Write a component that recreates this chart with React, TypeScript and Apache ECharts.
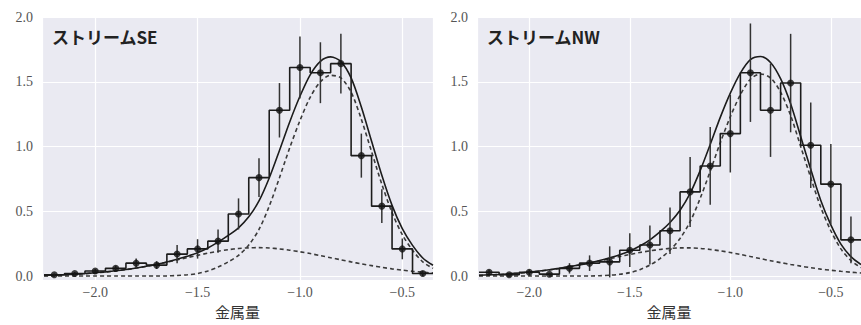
import React, { useEffect, useRef } from "react";
import * as echarts from "echarts";

// bin centres of the histograms (width 0.1)
const binCenters = [-2.2, -2.1, -2.0, -1.9, -1.8, -1.7, -1.6, -1.5, -1.4, -1.3, -1.2, -1.1, -1.0, -0.9, -0.8, -0.7, -0.6, -0.5, -0.4];
const binWidth = 0.1;

// Stream SE
const seVals = [0.01, 0.02, 0.04, 0.06, 0.1, 0.085, 0.17, 0.21, 0.27, 0.48, 0.76, 1.28, 1.61, 1.57, 1.64, 0.93, 0.54, 0.21, 0.02];
const seErr = [0.01, 0.012, 0.015, 0.02, 0.035, 0.03, 0.07, 0.075, 0.09, 0.12, 0.15, 0.21, 0.24, 0.235, 0.23, 0.17, 0.13, 0.08, 0.02];

// Stream NW
const nwVals = [0.03, 0.01, 0.03, 0.015, 0.06, 0.1, 0.11, 0.2, 0.24, 0.35, 0.65, 0.85, 1.1, 1.57, 1.28, 1.49, 1.01, 0.71, 0.28];
const nwErr = [0.02, 0.01, 0.02, 0.01, 0.04, 0.06, 0.12, 0.13, 0.15, 0.18, 0.27, 0.3, 0.3, 0.38, 0.36, 0.38, 0.33, 0.31, 0.18];

// model curves sampled along x
const curveX = [-2.25, -2.2, -2.15, -2.1, -2.05, -2.0, -1.95, -1.9, -1.85, -1.8, -1.75, -1.7, -1.65, -1.6, -1.55, -1.5, -1.45, -1.4, -1.35, -1.3, -1.25, -1.2, -1.15, -1.1, -1.05, -1.0, -0.95, -0.9, -0.85, -0.8, -0.75, -0.7, -0.65, -0.6, -0.55, -0.5, -0.45, -0.4, -0.35];

const seTotal = [0.006, 0.008, 0.011, 0.015, 0.02, 0.026, 0.033, 0.041, 0.051, 0.063, 0.076, 0.091, 0.109, 0.13, 0.153, 0.18, 0.217, 0.262, 0.314, 0.373, 0.458, 0.58, 0.757, 0.97, 1.19, 1.388, 1.554, 1.658, 1.692, 1.656, 1.53, 1.305, 1.041, 0.778, 0.546, 0.366, 0.237, 0.14, 0.084];
const seBroad = [0.005, 0.007, 0.01, 0.014, 0.019, 0.025, 0.032, 0.04, 0.05, 0.062, 0.075, 0.09, 0.107, 0.125, 0.143, 0.16, 0.177, 0.192, 0.204, 0.213, 0.218, 0.22, 0.217, 0.21, 0.2, 0.188, 0.174, 0.158, 0.142, 0.126, 0.11, 0.095, 0.081, 0.068, 0.056, 0.046, 0.037, 0.03, 0.024];
const seNarrow = [0.001, 0.001, 0.001, 0.001, 0.001, 0.001, 0.001, 0.001, 0.001, 0.001, 0.001, 0.001, 0.002, 0.005, 0.01, 0.02, 0.04, 0.07, 0.11, 0.16, 0.24, 0.36, 0.54, 0.76, 0.99, 1.2, 1.38, 1.5, 1.55, 1.53, 1.42, 1.21, 0.96, 0.71, 0.49, 0.32, 0.2, 0.11, 0.06];

const nwTotal = [0.007, 0.01, 0.013, 0.018, 0.024, 0.031, 0.039, 0.049, 0.06, 0.073, 0.087, 0.102, 0.12, 0.141, 0.165, 0.194, 0.232, 0.28, 0.341, 0.414, 0.508, 0.638, 0.814, 1.016, 1.225, 1.412, 1.567, 1.671, 1.695, 1.649, 1.524, 1.33, 1.077, 0.825, 0.584, 0.395, 0.247, 0.15, 0.089];
const nwBroad = [0.006, 0.009, 0.012, 0.017, 0.023, 0.03, 0.038, 0.048, 0.059, 0.072, 0.086, 0.101, 0.117, 0.134, 0.151, 0.167, 0.182, 0.195, 0.206, 0.214, 0.218, 0.218, 0.214, 0.206, 0.195, 0.182, 0.167, 0.151, 0.135, 0.119, 0.104, 0.09, 0.077, 0.065, 0.054, 0.045, 0.037, 0.03, 0.024];
const nwNarrow = [0.001, 0.001, 0.001, 0.001, 0.001, 0.001, 0.001, 0.001, 0.001, 0.001, 0.001, 0.001, 0.003, 0.007, 0.014, 0.027, 0.05, 0.085, 0.135, 0.2, 0.29, 0.42, 0.6, 0.81, 1.03, 1.23, 1.4, 1.52, 1.56, 1.53, 1.42, 1.24, 1.0, 0.76, 0.53, 0.35, 0.21, 0.12, 0.065];

const panelTitles = ["ストリームSE", "ストリームNW"];
const xAxisTitle = "金属量";
const xMin = -2.26;
const xMax = -0.35;
const yMin = -0.03;
const yMax = 2.0;

const LINE = "#1c1c1c";
const DASH = "#3a3a3a";
const NUM_FONT = "'Liberation Serif', 'DejaVu Serif', serif";
const JP_FONT = "'Noto Sans CJK JP', sans-serif";

function stepData(vals: number[]) {
  const d: number[][] = binCenters.map((c, i) => [c - binWidth / 2, vals[i]]);
  d.push([binCenters[binCenters.length - 1] + binWidth / 2, vals[vals.length - 1]]);
  return d;
}

function panelSeries(idx: number, vals: number[], err: number[], total: number[], broad: number[], narrow: number[]) {
  const ax = { xAxisIndex: idx, yAxisIndex: idx };
  const curve = (arr: number[], dashed: boolean) => ({
    type: "line",
    ...ax,
    data: curveX.map((x, i) => [x, arr[i]]),
    smooth: 0.3,
    showSymbol: false,
    symbol: "none",
    lineStyle: { color: dashed ? DASH : LINE, width: 1.6, type: dashed ? [4, 3] : "solid" },
    z: 2,
  });
  return [
    curve(broad, true),
    curve(narrow, true),
    curve(total, false),
    {
      type: "line",
      ...ax,
      data: stepData(vals),
      step: "end",
      showSymbol: false,
      symbol: "none",
      lineStyle: { color: LINE, width: 1.6 },
      z: 3,
    },
    {
      type: "custom",
      ...ax,
      data: binCenters.map((c, i) => [c, vals[i], err[i]]),
      encode: { x: 0, y: 1 },
      renderItem: (params: any, api: any) => {
        const x = api.value(0);
        const y = api.value(1);
        const e = api.value(2);
        const p1 = api.coord([x, y - e]);
        const p2 = api.coord([x, y + e]);
        return {
          type: "line",
          shape: { x1: p1[0], y1: p1[1], x2: p2[0], y2: p2[1] },
          style: { stroke: "#333", lineWidth: 1.5 },
        };
      },
      z: 4,
    },
    {
      type: "scatter",
      ...ax,
      data: binCenters.map((c, i) => [c, vals[i]]),
      symbol: "circle",
      symbolSize: 7,
      itemStyle: { color: "#111" },
      z: 5,
    },
  ];
}

const minus = (v: number) => String(v.toFixed(1)).replace("-", "\u2212");

function xAxisCfg(idx: number) {
  return {
    type: "value",
    gridIndex: idx,
    min: xMin,
    max: xMax,
    splitNumber: 4,
    name: xAxisTitle,
    nameLocation: "middle",
    nameGap: 18,
    nameTextStyle: { fontFamily: JP_FONT, fontSize: 15, color: "#333" },
    axisLine: { show: false },
    axisTick: { show: false },
    axisLabel: {
      showMinLabel: false,
      showMaxLabel: false,
      margin: 5,
      fontFamily: NUM_FONT,
      fontSize: 14,
      color: "#555",
      formatter: (v: number) => minus(v),
    },
    splitLine: { show: true, lineStyle: { color: "#ffffff", width: 1.2 } },
  };
}

function yAxisCfg(idx: number) {
  return {
    type: "value",
    gridIndex: idx,
    min: yMin,
    max: yMax,
    splitNumber: 4,
    axisLine: { show: false },
    axisTick: { show: false },
    axisLabel: {
      showMinLabel: false,
      margin: 9,
      fontFamily: NUM_FONT,
      fontSize: 14,
      color: "#555",
      formatter: (v: number) => v.toFixed(1),
    },
    splitLine: { show: true, lineStyle: { color: "#ffffff", width: 1.2 } },
  };
}

export default function App() {
  const ref = useRef<HTMLDivElement>(null);
  useEffect(() => {
    if (!ref.current) return;
    const chart = echarts.init(ref.current, null, { renderer: "svg" });
    const bg = "#eaeaf2";
    const titleStyle = { fontFamily: JP_FONT, fontSize: 17, fontWeight: "bold", color: "#222" };
    chart.setOption({
      animation: false,
      backgroundColor: "#ffffff",
      title: [
        { text: panelTitles[0], left: 52, top: 28, padding: 0, textStyle: titleStyle },
        { text: panelTitles[1], left: 487, top: 28, padding: 0, textStyle: titleStyle },
      ],
      grid: [
        { left: 42, top: 17, width: 391, height: 263, show: true, backgroundColor: bg, borderWidth: 0 },
        { left: 477, top: 17, width: 391, height: 263, show: true, backgroundColor: bg, borderWidth: 0 },
      ],
      xAxis: [xAxisCfg(0), xAxisCfg(1)],
      yAxis: [yAxisCfg(0), yAxisCfg(1)],
      series: [
        ...panelSeries(0, seVals, seErr, seTotal, seBroad, seNarrow),
        ...panelSeries(1, nwVals, nwErr, nwTotal, nwBroad, nwNarrow),
      ],
    });
    return () => chart.dispose();
  }, []);
  return (
    <div
      ref={ref}
      style={{ position: "fixed", left: 0, top: 0, width: 861, height: 325, background: "#fff" }}
    />
  );
}
